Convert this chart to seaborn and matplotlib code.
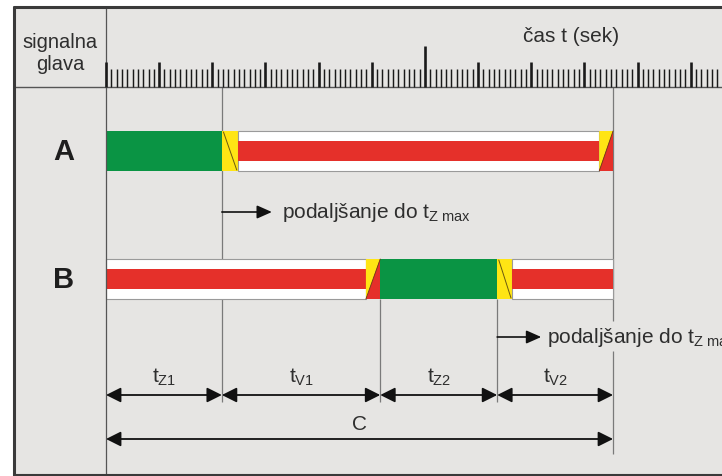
import numpy as np
import matplotlib
matplotlib.use("Agg")
import matplotlib.pyplot as plt
import seaborn as sns

sns.set_theme(style="white")
plt.rcParams['font.family'] = ['Liberation Sans', 'DejaVu Sans']
plt.rcParams['mathtext.fontset'] = 'custom'
plt.rcParams['mathtext.rm'] = 'Liberation Sans'
plt.rcParams['mathtext.it'] = 'Liberation Sans:italic'
plt.rcParams['mathtext.bf'] = 'Liberation Sans:bold'

# --- data (seconds) ---
signal_heads = ['A', 'B']
a_phases = ['green', 'yellow', 'red', 'red_yellow']
a_starts = [0.0, 21.8, 24.8, 92.8]
a_ends = [21.8, 24.8, 92.8, 95.4]
b_phases = ['red', 'red_yellow', 'green', 'yellow', 'red']
b_starts = [0.0, 48.9, 51.6, 73.6, 76.4]
b_ends = [48.9, 51.6, 73.6, 76.4, 95.4]
interval_labels = [r'$\mathrm{t_{Z1}}$', r'$\mathrm{t_{V1}}$', r'$\mathrm{t_{Z2}}$', r'$\mathrm{t_{V2}}$']
interval_bounds = [0.0, 21.8, 51.6, 73.6, 95.4]
cycle_label = 'C'
extension_times = [21.8, 73.6]
extension_text = r'podaljšanje do $\mathrm{t_{Z\ max}}$'
ruler_max = 115

# --- layout (pixels) ---
W, H = 722, 477
ORIGIN = 106.0
PX_PER_S = 5.315


def px(x):
    return (x - ORIGIN) / PX_PER_S


GREEN = '#0a9444'
RED = '#e5302a'
YELLOW = '#ffe514'
BG = '#e6e5e3'
INK = '#2e2e2e'
GUIDE = '#7a7a7a'

fig = plt.figure(figsize=(W / 100, H / 100), dpi=100)
fig.patch.set_facecolor('white')
ax = fig.add_axes([0, 0, 1, 1])
ax.set_xlim(px(0), px(W))
ax.set_ylim(H, 0)
ax.axis('off')

# frame
ax.fill_between([px(14), px(W + 5)], 8, 476, color=BG, zorder=0)
ax.plot([px(14), px(14)], [8, 476], color='#3a3a3a', lw=2.2, zorder=5)
ax.plot([px(14), px(W + 5)], [8, 8], color='#3a3a3a', lw=2.2, zorder=5)
ax.plot([px(14), px(W + 5)], [476, 476], color='#3a3a3a', lw=1.5, zorder=5)
ax.plot([px(14), px(W + 5)], [88, 88], color='#555555', lw=1.0, zorder=3)
ax.vlines(0, 8, 476, color='#555555', lw=0.9, zorder=3)

# header
ax.text(px(60), 42, 'signalna', ha='center', va='center', fontsize=14.5, color=INK)
ax.text(px(60), 65, 'glava', ha='center', va='center', fontsize=14.5, color=INK)
ax.text(px(571), 36, 'čas t (sek)', ha='center', va='center', fontsize=15, color=INK)

# ruler
secs = np.arange(0, ruler_max + 1)
minor = secs[secs % 10 != 0]
major = secs[(secs % 10 == 0) & (secs != 60)]
ax.vlines(minor, 70, 88, color='#1a1a1a', lw=1.05, zorder=4)
ax.vlines(major, 63, 88, color='#1a1a1a', lw=1.9, zorder=4)
ax.vlines([60], 47, 88, color='#1a1a1a', lw=1.9, zorder=4)

# guide lines
ax.vlines(interval_bounds[1], 88, 403, color=GUIDE, lw=0.9, zorder=1)
ax.vlines(interval_bounds[2:4], 300, 403, color=GUIDE, lw=0.9, zorder=1)
ax.vlines(interval_bounds[4], 88, 322, color=GUIDE, lw=0.9, zorder=1)
ax.vlines(interval_bounds[4], 352, 455, color=GUIDE, lw=0.9, zorder=1)

BAR_H = 40
STRIPE_H = 20


def draw_head(y, phases, starts, ends):
    for ph, s, e in zip(phases, starts, ends):
        top, bot = y - BAR_H / 2, y + BAR_H / 2
        if ph == 'green':
            ax.barh(y, e - s, left=s, height=BAR_H, color=GREEN, edgecolor='none', zorder=2)
        elif ph == 'red':
            ax.barh(y, e - s, left=s, height=BAR_H, color='white', edgecolor='#9a9a9a', lw=0.8, zorder=2)
            ax.barh(y, e - s, left=s, height=STRIPE_H, color=RED, edgecolor='none', zorder=2)
        elif ph == 'yellow':
            ax.barh(y, e - s, left=s, height=BAR_H, color=YELLOW, edgecolor='none', zorder=2)
            ax.plot([s + 0.3, e - 0.2], [top + 1, bot - 1], color='#6b5a10', lw=0.7, zorder=3)
        elif ph == 'red_yellow':
            ax.fill([s, e, s], [top, top, bot], color=YELLOW, lw=0, zorder=2)
            ax.fill([e, e, s], [top, bot, bot], color=RED, lw=0, zorder=2)
            ax.plot([e, s], [top, bot], color='#6b3a10', lw=0.6, zorder=3)


rows_y = [152, 280]
draw_head(rows_y[0], a_phases, a_starts, a_ends)
draw_head(rows_y[1], b_phases, b_starts, b_ends)
for name, y in zip(signal_heads, rows_y):
    ax.text(px(64), y, name, ha='center', va='center', fontsize=21, fontweight='bold', color='#1e1e1e')

# extension annotations
ext_y = [213, 338]
ext_len = [50, 44]
ext_gap = [10, 6]
for t, y, L, g in zip(extension_times, ext_y, ext_len, ext_gap):
    ax.annotate('', xy=(t + L / PX_PER_S, y), xytext=(t, y),
                arrowprops=dict(arrowstyle='-|>,head_length=0.9,head_width=0.4', color='#111111',
                                lw=1.2, shrinkA=0, shrinkB=0, mutation_scale=10))
    ax.text(t + (L + g) / PX_PER_S, y, extension_text, ha='left', va='center', fontsize=15, color=INK)

# interval arrows
arrow_kw = dict(arrowstyle='<|-|>,head_length=0.9,head_width=0.45', color='#111111',
                lw=1.3, shrinkA=0, shrinkB=0, mutation_scale=10)
for lab, s, e in zip(interval_labels, interval_bounds[:-1], interval_bounds[1:]):
    ax.annotate('', xy=(e, 396), xytext=(s, 396), arrowprops=arrow_kw)
    ax.text((s + e) / 2, 377, lab, ha='center', va='center', fontsize=15, color=INK)

ax.annotate('', xy=(interval_bounds[-1], 440), xytext=(interval_bounds[0], 440), arrowprops=arrow_kw)
ax.text((interval_bounds[0] + interval_bounds[-1]) / 2, 425, cycle_label, ha='center', va='center',
        fontsize=15, color=INK)

fig.savefig('out.png', dpi=100, facecolor='white')
